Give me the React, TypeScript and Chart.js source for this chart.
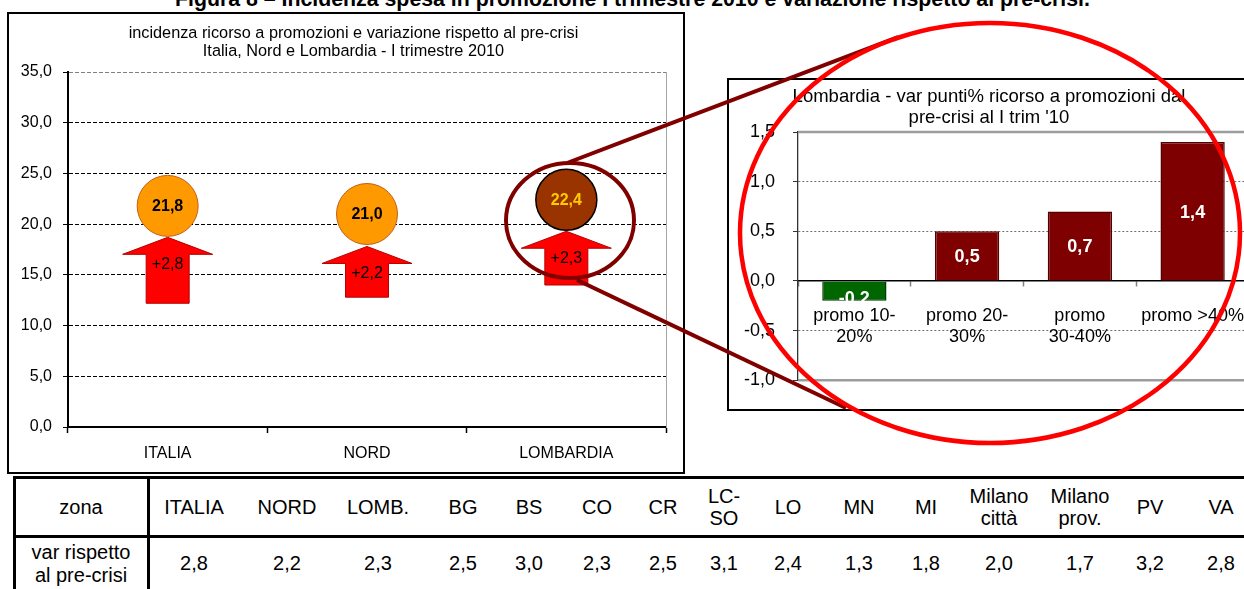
import React, { useEffect, useRef } from 'react';
import { Chart, registerables } from 'chart.js';

Chart.register(...registerables);

const FONT = 'Arial, "Liberation Sans", Helvetica, sans-serif';

// ---------------- data ----------------
const mainTitle =
  'Figura 8 – Incidenza spesa in promozione I trimestre 2010 e variazione rispetto al pre-crisi.';

const leftTitle = [
  'incidenza ricorso a promozioni e variazione rispetto al pre-crisi',
  'Italia, Nord e Lombardia - I trimestre 2010',
];
const areaCategories = ['ITALIA', 'NORD', 'LOMBARDIA'];
const incidenza = [21.8, 21.0, 22.4];
const variazione = [2.8, 2.2, 2.3];
const arrowTop = [18.7, 17.8, 19.3];
const arrowBottom = [12.2, 12.8, 14.0];
const leftMin = 0;
const leftMax = 35;
const leftStep = 5;

const rightTitle = ['Lombardia - var punti% ricorso a promozioni dal', "pre-crisi al I trim '10"];
const promoCategories = [['promo 10-', '20%'], ['promo 20-', '30%'], ['promo', '30-40%'], ['promo >40%']];
const promoVar = [-0.2, 0.5, 0.7, 1.4];
const rightMin = -1;
const rightMax = 1.5;
const rightStep = 0.5;

const tableHeaderLabel = 'zona';
const tableRowLabel = ['var rispetto', 'al pre-crisi'];
const tableZones = [
  ['ITALIA'], ['NORD'], ['LOMB.'], ['BG'], ['BS'], ['CO'], ['CR'], ['LC-', 'SO'], ['LO'],
  ['MN'], ['MI'], ['Milano', 'città'], ['Milano', 'prov.'], ['PV'], ['VA'],
];
const tableVar = [2.8, 2.2, 2.3, 2.5, 3.0, 2.3, 2.5, 3.1, 2.4, 1.3, 1.8, 2.0, 1.7, 3.2, 2.8];

// ---------------- layout / styles ----------------
const tableColEdges = [14, 148, 240, 334, 422, 504, 554, 640, 686, 762, 814, 904, 948, 1050, 1110, 1190, 1252];
const bubbleFill = ['#FF9900', '#FF9900', '#993300'];
const bubbleBorder = ['#C0601A', '#C0601A', '#000000'];
const bubbleLabelColor = ['#000000', '#000000', '#FFCC00'];

const fmt = (v: number) => Number(v).toFixed(1).replace('.', ',');

const leftPlugin = {
  id: 'leftPlugin',
  beforeDatasetsDraw(chart: any) {
    const meta = chart.getDatasetMeta(0);
    const ctx = chart.ctx;
    ctx.save();
    meta.data.forEach((el: any) => {
      const { x, y, base } = el.getProps(['x', 'y', 'base'], true);
      const headH = 17;
      const headHalf = 45;
      const shaftHalf = 21.5;
      ctx.beginPath();
      ctx.moveTo(x, y);
      ctx.lineTo(x + headHalf, y + headH);
      ctx.lineTo(x + shaftHalf, y + headH);
      ctx.lineTo(x + shaftHalf, base);
      ctx.lineTo(x - shaftHalf, base);
      ctx.lineTo(x - shaftHalf, y + headH);
      ctx.lineTo(x - headHalf, y + headH);
      ctx.closePath();
      ctx.fillStyle = '#FF0000';
      ctx.fill();
      ctx.lineWidth = 1;
      ctx.strokeStyle = '#B40000';
      ctx.stroke();
    });
    ctx.restore();
  },
  afterDatasetsDraw(chart: any) {
    const ctx = chart.ctx;
    const arrows = chart.getDatasetMeta(0);
    const bubbles = chart.getDatasetMeta(1);
    ctx.save();
    ctx.textAlign = 'center';
    ctx.textBaseline = 'middle';
    ctx.font = `16px ${FONT}`;
    ctx.fillStyle = '#000';
    arrows.data.forEach((el: any, i: number) => {
      const { x, y } = el.getProps(['x', 'y'], true);
      ctx.fillText('+' + fmt(variazione[i]), x, y + 27);
    });
    ctx.font = `bold 16px ${FONT}`;
    bubbles.data.forEach((el: any, i: number) => {
      const { x, y } = el.getProps(['x', 'y'], true);
      ctx.fillStyle = bubbleLabelColor[i];
      ctx.fillText(fmt(incidenza[i]), x, y + 1);
    });
    ctx.restore();
  },
};

const rightPlugin = {
  id: 'rightPlugin',
  beforeDatasetsDraw(chart: any) {
    const { ctx, chartArea: a } = chart;
    ctx.save();
    ctx.strokeStyle = '#9C9C9C';
    ctx.lineWidth = 2.5;
    ctx.beginPath();
    ctx.moveTo(a.left, a.top);
    ctx.lineTo(a.right + 40, a.top);
    ctx.moveTo(a.left, a.bottom);
    ctx.lineTo(a.right + 40, a.bottom);
    ctx.stroke();
    ctx.restore();
  },
  afterDatasetsDraw(chart: any) {
    const ctx = chart.ctx;
    const meta = chart.getDatasetMeta(0);
    ctx.save();
    ctx.textAlign = 'center';
    ctx.textBaseline = 'middle';
    ctx.font = `bold 18px ${FONT}`;
    ctx.fillStyle = '#FFFFFF';
    meta.data.forEach((el: any, i: number) => {
      const { x, y, base } = el.getProps(['x', 'y', 'base'], true);
      const v = promoVar[i];
      const cy = (y + base) / 2 + (v < 0 ? 8 : 1.5);
      ctx.fillText(fmt(v), x, cy);
    });
    ctx.restore();
  },
};

export default function App() {
  const leftRef = useRef<HTMLCanvasElement | null>(null);
  const rightRef = useRef<HTMLCanvasElement | null>(null);

  useEffect(() => {
    const left = new Chart(leftRef.current as HTMLCanvasElement, {
      data: {
        labels: areaCategories,
        datasets: [
          {
            type: 'bar',
            label: 'variazione',
            data: arrowBottom.map((b, i) => [b, arrowTop[i]]),
            backgroundColor: 'rgba(0,0,0,0)',
            borderWidth: 0,
            barThickness: 43,
            order: 2,
          },
          {
            type: 'line',
            label: 'incidenza',
            data: incidenza,
            showLine: false,
            pointRadius: 30.5,
            pointHoverRadius: 30.5,
            pointBackgroundColor: bubbleFill,
            pointBorderColor: bubbleBorder,
            pointBorderWidth: [1, 1, 1.5],
            order: 1,
          },
        ],
      } as any,
      options: {
        responsive: false,
        animation: false,
        devicePixelRatio: 1,
        events: [],
        layout: { padding: 0 },
        plugins: {
          legend: { display: false },
          tooltip: { enabled: false },
          title: {
            display: true,
            text: leftTitle,
            color: '#000',
            font: { family: FONT, size: 16.3, weight: 'normal', lineHeight: 1.12 },
            padding: { top: 10, bottom: 11.5 },
          },
        },
        scales: {
          x: {
            type: 'category',
            offset: true,
            grid: {
              display: true,
              drawOnChartArea: false,
              offset: true,
              tickLength: 6,
              tickColor: '#000',
              tickWidth: 1.5,
            },
            border: { display: true, color: '#000', width: 2 },
            ticks: { font: { family: FONT, size: 16 }, color: '#000', padding: 11, maxRotation: 0 },
            afterFit: (s: any) => {
              s.height = 45;
              s.paddingLeft = 0;
              s.paddingRight = 0;
            },
          },
          y: {
            min: leftMin,
            max: leftMax,
            ticks: {
              stepSize: leftStep,
              callback: (v: any) => fmt(v),
              font: { family: FONT, size: 16 },
              color: '#000',
              padding: 11,
            },
            grid: {
              color: (c: any) =>
                c.tick && c.tick.value === leftMin ? 'rgba(0,0,0,0)' : c.tick && c.tick.value === leftMax ? '#808080' : '#000',
              lineWidth: 1,
              tickLength: 5,
              tickColor: '#000',
              tickWidth: 1,
            },
            border: { display: true, color: '#000', width: 2, dash: [4, 2] },
            afterFit: (s: any) => {
              s.width = 59;
            },
          },
          y2: {
            position: 'right',
            min: leftMin,
            max: leftMax,
            grid: { display: false },
            ticks: { display: false },
            border: { display: true, color: '#A6A6A6', width: 1 },
            afterFit: (s: any) => {
              s.width = 2;
            },
          },
        },
      } as any,
      plugins: [leftPlugin],
    });

    const right = new Chart(rightRef.current as HTMLCanvasElement, {
      type: 'bar',
      data: {
        labels: promoCategories,
        datasets: [
          {
            label: 'var',
            data: promoVar,
            backgroundColor: promoVar.map((v) => (v < 0 ? '#006600' : '#7F0000')),
            borderColor: promoVar.map((v) => (v < 0 ? '#003C00' : '#550000')),
            borderWidth: 1.5,
            categoryPercentage: 0.57,
            barPercentage: 1,
          },
        ],
      } as any,
      options: {
        responsive: false,
        animation: false,
        devicePixelRatio: 1,
        events: [],
        layout: { padding: { left: 0, top: 0, right: 21, bottom: 28 } },
        plugins: {
          legend: { display: false },
          tooltip: { enabled: false },
          title: {
            display: true,
            text: rightTitle,
            color: '#000',
            font: { family: FONT, size: 18.5, weight: 'normal', lineHeight: 21 / 18.5 },
            padding: { top: 6.5, bottom: 3.5 },
          },
        },
        scales: {
          x: {
            position: { y: 0 },
            offset: true,
            grid: {
              display: true,
              drawOnChartArea: false,
              offset: true,
              tickLength: 5,
              tickColor: '#808080',
              tickWidth: 1.5,
            },
            border: { display: true, color: '#000', width: 1.5 },
            ticks: {
              font: { family: FONT, size: 18, lineHeight: 1.2 },
              color: '#000',
              padding: 19,
              autoSkip: false,
              maxRotation: 0,
              minRotation: 0,
            },
            afterFit: (s: any) => {
              s.paddingLeft = 0;
              s.paddingRight = 0;
            },
          },
          y: {
            min: rightMin,
            max: rightMax,
            ticks: {
              stepSize: rightStep,
              callback: (v: any) => fmt(v),
              font: { family: FONT, size: 18 },
              color: '#000',
              padding: 18,
            },
            grid: {
              color: (c: any) => {
                const v = c.tick ? c.tick.value : null;
                return v === 0 || v === rightMin || v === rightMax ? 'rgba(0,0,0,0)' : '#707070';
              },
              lineWidth: 1,
              tickLength: 5,
              tickColor: '#333',
              tickWidth: 1,
            },
            border: { display: true, color: '#333', width: 1.3, dash: [2, 2] },
            afterFit: (s: any) => {
              s.width = 69;
            },
          },
        },
      } as any,
      plugins: [rightPlugin],
    });

    return () => {
      left.destroy();
      right.destroy();
    };
  }, []);

  const cellStyle = (l: number, r: number, top: number, h: number, lh: number): React.CSSProperties => ({
    position: 'absolute',
    left: l,
    width: r - l,
    top,
    height: h,
    display: 'flex',
    alignItems: 'center',
    justifyContent: 'center',
    textAlign: 'center',
    fontSize: 20,
    lineHeight: `${lh}px`,
    whiteSpace: 'nowrap',
  });

  return (
    <div
      style={{
        position: 'fixed',
        left: 0,
        top: 0,
        width: 1244,
        height: 589,
        overflow: 'hidden',
        background: '#fff',
        fontFamily: FONT,
        color: '#000',
      }}
    >
      <div
        style={{
          position: 'absolute',
          left: 0,
          top: -11,
          width: 1265,
          textAlign: 'center',
          fontWeight: 'bold',
          fontSize: 21.3,
          lineHeight: '21px',
          whiteSpace: 'nowrap',
        }}
      >
        {mainTitle}
      </div>

      <div
        style={{
          position: 'absolute',
          left: 7,
          top: 12,
          width: 678,
          height: 462,
          border: '2px solid #000',
          boxSizing: 'border-box',
          background: '#fff',
          overflow: 'hidden',
        }}
      >
        <canvas ref={leftRef} width={689} height={458} style={{ display: 'block', width: 689, height: 458 }} />
      </div>

      <div
        style={{
          position: 'absolute',
          left: 727,
          top: 78,
          width: 545,
          height: 333,
          border: '2px solid #000',
          boxSizing: 'border-box',
          background: '#fff',
        }}
      >
        <canvas ref={rightRef} width={541} height={329} style={{ display: 'block', width: 541, height: 329 }} />
      </div>

      {/* table */}
      <div style={{ position: 'absolute', left: 13, top: 476, width: 1240, height: 3, background: '#000' }} />
      <div style={{ position: 'absolute', left: 13, top: 535, width: 1240, height: 3, background: '#000' }} />
      <div style={{ position: 'absolute', left: 13, top: 476, width: 2.5, height: 120, background: '#000' }} />
      <div style={{ position: 'absolute', left: 147, top: 476, width: 2.5, height: 120, background: '#000' }} />
      <div style={cellStyle(tableColEdges[0], tableColEdges[1], 479, 56, 22)}>{tableHeaderLabel}</div>
      <div style={cellStyle(tableColEdges[0], tableColEdges[1], 538, 51, 23)}>
        <div>
          {tableRowLabel.map((t, i) => (
            <div key={i}>{t}</div>
          ))}
        </div>
      </div>
      {tableZones.map((z, i) => (
        <div key={'h' + i} style={cellStyle(tableColEdges[i + 1], tableColEdges[i + 2], 479, 56, 22)}>
          <div>
            {z.map((t, j) => (
              <div key={j}>{t}</div>
            ))}
          </div>
        </div>
      ))}
      {tableVar.map((v, i) => (
        <div key={'v' + i} style={cellStyle(tableColEdges[i + 1], tableColEdges[i + 2], 538, 51, 23)}>
          {fmt(v)}
        </div>
      ))}

      {/* annotation overlay */}
      <svg
        width={1244}
        height={589}
        style={{ position: 'absolute', left: 0, top: 0, pointerEvents: 'none' }}
      >
        <line x1={567} y1={163} x2={898} y2={37} stroke="#800000" strokeWidth={4} />
        <line x1={577} y1={280} x2={846} y2={408} stroke="#800000" strokeWidth={4} />
        <ellipse cx={570} cy={220.5} rx={64} ry={57.5} fill="none" stroke="#800000" strokeWidth={4} />
        <ellipse cx={990} cy={233} rx={250} ry={210} fill="none" stroke="#FF0000" strokeWidth={4.5} />
      </svg>
    </div>
  );
}
